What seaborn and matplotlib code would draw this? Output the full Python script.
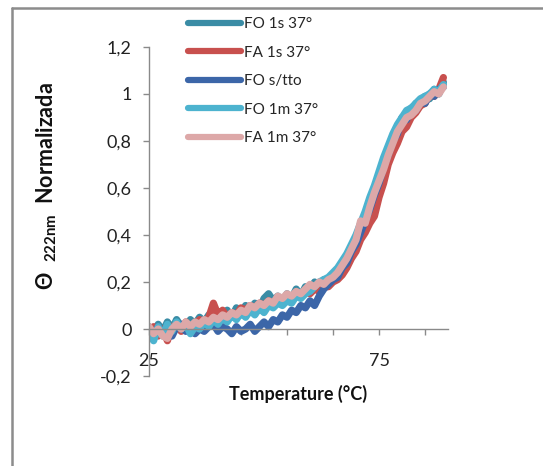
import pandas as pd
import seaborn as sns
import matplotlib.pyplot as plt
from matplotlib.lines import Line2D

# temperature grid (°C)
temps = [25, 26, 27, 28, 29, 30, 31, 32, 33, 34, 35, 36, 37, 38, 39, 40,
         41, 42, 43, 44, 45, 46, 47, 48, 49, 50, 51, 52, 53, 54, 55, 56,
         57, 58, 59, 60, 61, 62, 63, 64, 65, 66, 67, 68, 69, 70, 71, 72,
         73, 74, 75, 76, 77, 78, 79, 80, 81, 82, 83, 84, 85, 86, 87, 88, 89]

fo_1s_37 = [0.01, -0.02, 0.02, -0.01, 0.03, 0.00, 0.04, 0.01, 0.00, 0.04,
            0.02, 0.05, 0.03, 0.06, 0.04, 0.07, 0.04, 0.08, 0.05, 0.09,
            0.06, 0.10, 0.08, 0.11, 0.08, 0.13, 0.15, 0.12, 0.14, 0.11,
            0.15, 0.13, 0.17, 0.14, 0.18, 0.16, 0.20, 0.18, 0.21, 0.20,
            0.23, 0.24, 0.28, 0.30, 0.35, 0.38, 0.44, 0.48, 0.54, 0.58,
            0.65, 0.70, 0.77, 0.80, 0.86, 0.88, 0.92, 0.92, 0.96, 0.95,
            0.99, 0.98, 1.02, 1.00, 1.05]

fa_1s_37 = [-0.01, 0.01, -0.03, 0.00, -0.05, 0.01, 0.02, -0.01, 0.03, 0.00,
            0.02, 0.04, 0.03, 0.05, 0.11, 0.06, 0.08, 0.05, 0.07, 0.06,
            0.09, 0.08, 0.10, 0.09, 0.11, 0.10, 0.12, 0.11, 0.13, 0.12,
            0.14, 0.13, 0.15, 0.14, 0.16, 0.15, 0.17, 0.16, 0.18, 0.18,
            0.20, 0.21, 0.23, 0.26, 0.30, 0.33, 0.38, 0.41, 0.45, 0.48,
            0.56, 0.62, 0.70, 0.75, 0.79, 0.84, 0.86, 0.90, 0.92, 0.95,
            0.96, 1.00, 0.99, 1.02, 1.07]

fo_sin_tto = [0.00, -0.03, 0.01, -0.02, 0.00, -0.03, 0.01, 0.02, -0.01, 0.01,
              -0.02, 0.00, -0.01, 0.01, 0.02, -0.01, 0.01, 0.00, -0.02, 0.01,
              -0.01, 0.00, 0.02, -0.01, 0.01, 0.03, 0.01, 0.04, 0.03, 0.06,
              0.05, 0.08, 0.07, 0.10, 0.09, 0.12, 0.10, 0.14, 0.17, 0.19,
              0.21, 0.22, 0.26, 0.28, 0.33, 0.36, 0.41, 0.46, 0.51, 0.57,
              0.62, 0.69, 0.74, 0.80, 0.83, 0.90, 0.89, 0.94, 0.93, 0.97,
              0.96, 1.00, 0.99, 1.02, 1.03]

fo_1m_37 = [-0.02, -0.05, 0.01, -0.03, 0.02, -0.01, 0.03, 0.00, 0.02, -0.02,
            0.01, 0.00, 0.03, 0.01, 0.04, 0.02, 0.05, 0.03, 0.06, 0.04,
            0.07, 0.05, 0.08, 0.06, 0.09, 0.07, 0.10, 0.09, 0.11, 0.10,
            0.12, 0.11, 0.14, 0.13, 0.15, 0.16, 0.18, 0.20, 0.21, 0.22,
            0.24, 0.26, 0.29, 0.32, 0.36, 0.40, 0.45, 0.50, 0.56, 0.61,
            0.67, 0.73, 0.78, 0.83, 0.87, 0.90, 0.93, 0.94, 0.96, 0.98,
            0.99, 1.00, 1.02, 1.01, 1.04]

fa_1m_37 = [0.01, -0.02, 0.00, -0.03, -0.04, 0.00, 0.02, 0.00, 0.03, 0.01,
            0.03, 0.02, 0.04, 0.03, 0.05, 0.04, 0.06, 0.05, 0.07, 0.06,
            0.08, 0.07, 0.10, 0.09, 0.11, 0.10, 0.12, 0.11, 0.14, 0.13,
            0.15, 0.14, 0.16, 0.15, 0.17, 0.19, 0.18, 0.20, 0.19, 0.21,
            0.22, 0.24, 0.27, 0.30, 0.34, 0.38, 0.46, 0.45, 0.52, 0.58,
            0.63, 0.68, 0.74, 0.79, 0.84, 0.87, 0.90, 0.91, 0.93, 0.96,
            0.97, 0.99, 1.01, 1.00, 1.03]

series_names = ["FO 1s 37°", "FA 1s 37°", "FO s/tto", "FO 1m 37°", "FA 1m 37°"]
series_values = [fo_1s_37, fa_1s_37, fo_sin_tto, fo_1m_37, fa_1m_37]
colors = ["#3A8CA5", "#C8504E", "#3C66A8", "#4DB3CF", "#DDA8A8"]

y_ticks = [-0.2, 0, 0.2, 0.4, 0.6, 0.8, 1, 1.2]
y_tick_labels = ["-0,2", "0", "0,2", "0,4", "0,6", "0,8", "1", "1,2"]
x_ticks = [25, 35, 45, 55, 65, 75, 85]
x_tick_labels = ["25", "", "", "", "", "75", ""]

# long-form table for seaborn
frames = []
for name, vals in zip(series_names, series_values):
    frames.append(pd.DataFrame({"Temperature": temps, "Theta": vals, "Serie": name}))
df = pd.concat(frames, ignore_index=True)

sns.set_theme(style="white")
plt.rcParams["font.family"] = ["Lato", "DejaVu Sans"]
plt.rcParams["mathtext.fontset"] = "custom"
plt.rcParams["mathtext.bf"] = "Lato:bold"
plt.rcParams["mathtext.rm"] = "Lato"

fig = plt.figure(figsize=(5.43, 4.66), dpi=100)
ax = fig.add_axes([149 / 543, 90 / 466, 299 / 543, 329 / 466])

sns.lineplot(data=df, x="Temperature", y="Theta", hue="Serie",
             hue_order=series_names, palette=colors, sort=False,
             linewidth=5.2, ax=ax, legend=False)
for line in ax.lines:
    line.set_solid_capstyle("round")
    line.set_solid_joinstyle("round")

ax.set_xlim(25, 90)
ax.set_ylim(-0.2, 1.2)
ax.set_yticks(y_ticks)
ax.set_yticklabels(y_tick_labels)
ax.set_xticks(x_ticks)
ax.set_xticklabels(x_tick_labels)

ax.spines["top"].set_visible(False)
ax.spines["right"].set_visible(False)
ax.spines["bottom"].set_position(("data", 0))
for s in ["left", "bottom"]:
    ax.spines[s].set_color("#8a8a8a")
    ax.spines[s].set_linewidth(1.0)

ax.tick_params(axis="y", direction="out", length=4.5, width=1.0, color="#8a8a8a",
               pad=8, labelsize=13, labelcolor="#222222", left=True)
ax.tick_params(axis="x", direction="out", length=4.5, width=1.0, color="#8a8a8a",
               pad=13, labelsize=13, labelcolor="#222222", bottom=True)

ax.set_xlabel("")
ax.set_ylabel("")
fig.text(298 / 543, 1 - 394 / 466, "Temperature (°C)", ha="center", va="center",
         fontsize=13, fontweight="bold", color="#111111")
fig.text(47 / 543, 1 - 186 / 466, "Θ  $\\mathbf{_{222nm}}$  Normalizada", rotation=90,
         ha="center", va="center", fontsize=15.5, fontweight="bold", color="#111111")

handles = [Line2D([], [], color=c, lw=4.5, solid_capstyle="round") for c in colors]
fig.legend(handles, series_names, loc="upper left", bbox_to_anchor=(188 / 543, 1 - 17 / 466),
           frameon=False, fontsize=11, handlelength=3.5, handletextpad=0.15,
           labelspacing=0.95, borderpad=0, borderaxespad=0)

# outer chart border (left and top only visible)
fig.add_artist(Line2D([12 / 543, 12 / 543], [0, 1 - 8 / 466], transform=fig.transFigure,
                      color="#8c8c8c", lw=1.8))
fig.add_artist(Line2D([12 / 543, 1], [1 - 8 / 466, 1 - 8 / 466], transform=fig.transFigure,
                      color="#8c8c8c", lw=1.8))

fig.savefig("out.png", dpi=100)
